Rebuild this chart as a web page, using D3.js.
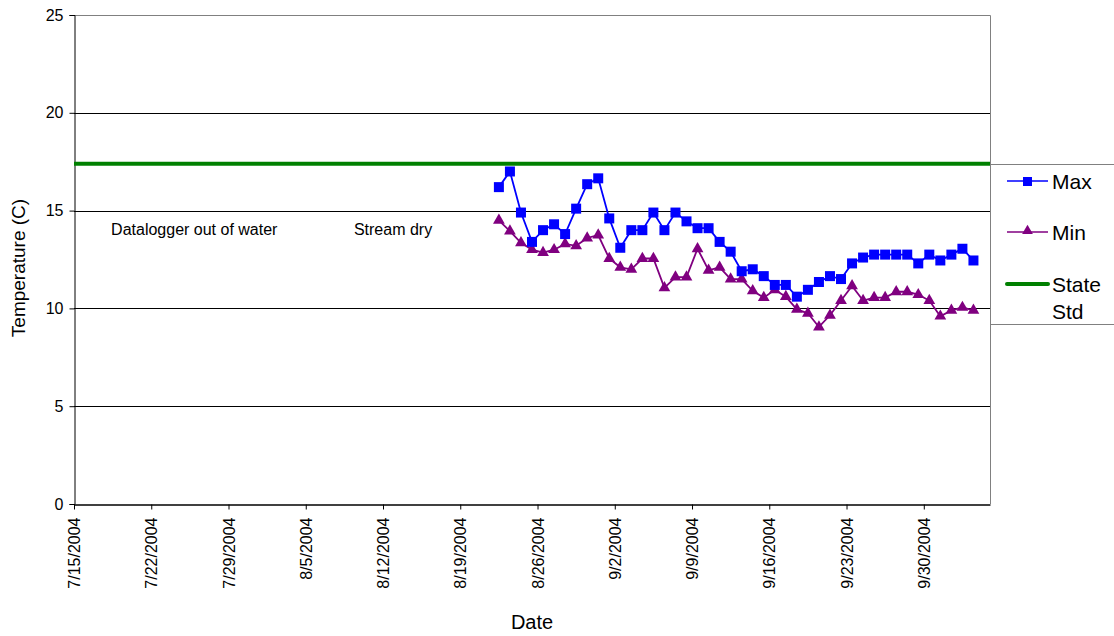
<!DOCTYPE html>
<html>
<head>
<meta charset="utf-8">
<script src="https://cdn.jsdelivr.net/npm/d3@7"></script>
<style>
  html, body { margin: 0; padding: 0; background: #fff; }
  svg { display: block; font-family: "Liberation Sans", Arial, sans-serif; }
</style>
</head>
<body>
<svg id="chart" width="1114" height="636"></svg>
<script>
// ---- data ----
const dates = ["8/22/2004","8/23/2004","8/24/2004","8/25/2004","8/26/2004","8/27/2004","8/28/2004","8/29/2004","8/30/2004","8/31/2004",
  "9/1/2004","9/2/2004","9/3/2004","9/4/2004","9/5/2004","9/6/2004","9/7/2004","9/8/2004","9/9/2004","9/10/2004",
  "9/11/2004","9/12/2004","9/13/2004","9/14/2004","9/15/2004","9/16/2004","9/17/2004","9/18/2004","9/19/2004","9/20/2004",
  "9/21/2004","9/22/2004","9/23/2004","9/24/2004","9/25/2004","9/26/2004","9/27/2004","9/28/2004","9/29/2004","9/30/2004",
  "10/1/2004","10/2/2004","10/3/2004","10/4/2004"];
const maxVals = [16.2, 17.0, 14.9, 13.4, 14.0, 14.3, 13.8, 15.1, 16.35, 16.65,
  14.6, 13.1, 14.0, 14.0, 14.9, 14.0, 14.9, 14.45, 14.1, 14.1,
  13.4, 12.9, 11.9, 12.0, 11.65, 11.2, 11.2, 10.6, 10.95, 11.35,
  11.65, 11.5, 12.3, 12.6, 12.75, 12.75, 12.75, 12.75, 12.3, 12.75,
  12.45, 12.75, 13.05, 12.45];
const minVals = [14.5, 13.95, 13.35, 13.0, 12.85, 13.0, 13.3, 13.2, 13.6, 13.75,
  12.55, 12.1, 12.0, 12.55, 12.55, 11.05, 11.6, 11.6, 13.05, 11.95,
  12.1, 11.5, 11.5, 10.9, 10.55, 10.95, 10.6, 9.95, 9.75, 9.05,
  9.65, 10.4, 11.15, 10.4, 10.55, 10.55, 10.85, 10.85, 10.7, 10.4,
  9.6, 9.9, 10.05, 9.9];
const stateStd = 17.4;
const xTickLabels = ["7/15/2004","7/22/2004","7/29/2004","8/5/2004","8/12/2004","8/19/2004","8/26/2004","9/2/2004","9/9/2004","9/16/2004","9/23/2004","9/30/2004"];
const yTicks = [0, 5, 10, 15, 20, 25];
const xDomain = ["7/15/2004", "10/6/2004"];
const annotations = [
  { text: "Datalogger out of water", date: "7/18/2004", value: 13.75 },
  { text: "Stream dry", date: "8/9/2004", value: 13.75 }
];
const seriesNames = ["Max", "Min", "State Std"];

// ---- helpers ----
const parse = d3.timeParse("%m/%d/%Y");
const mid = s => d3.timeHour.offset(parse(s), 12);

const svg = d3.select("#chart");
const L = 74, R = 990, T = 15, B = 504;

const x = d3.scaleTime().domain(xDomain.map(parse)).range([L, R]);
const y = d3.scaleLinear().domain([0, 25]).range([B, T]);

// gridlines
svg.append("g").selectAll("line").data(yTicks.filter(v => v > 0 && v < 25)).join("line")
  .attr("x1", L).attr("x2", R)
  .attr("y1", d => Math.round(y(d)) + 0.5).attr("y2", d => Math.round(y(d)) + 0.5)
  .attr("stroke", "#000").attr("stroke-width", 1);

// plot border (top/right gray)
svg.append("path")
  .attr("d", `M${L},${T + 0.5}H${R + 0.5}V${B}`)
  .attr("fill", "none").attr("stroke", "#808080").attr("stroke-width", 1);

// y axis
const yAxis = d3.axisLeft(y).tickValues(yTicks).tickSize(5).tickPadding(6).tickFormat(d3.format("d"));
const gy = svg.append("g").attr("transform", `translate(${L + 0.5},0)`).call(yAxis);
gy.select(".domain").attr("stroke", "#000");
gy.selectAll("text").attr("font-size", 16).attr("fill", "#000").attr("font-family", "Liberation Sans, Arial, sans-serif");

// x axis
const xAxis = d3.axisBottom(x).tickValues(xTickLabels.map(parse)).tickSize(5).tickSizeOuter(0)
  .tickFormat(d3.timeFormat("%-m/%-d/%Y"));
const gx = svg.append("g").attr("transform", `translate(0,${B + 0.5})`).call(xAxis);
gx.select(".domain").attr("stroke", "#000").attr("stroke-width", 1.5);
gx.selectAll("text")
  .attr("font-size", 16).attr("fill", "#000").attr("font-family", "Liberation Sans, Arial, sans-serif")
  .attr("transform", "rotate(-90)")
  .attr("text-anchor", "end")
  .attr("x", -13).attr("y", 0).attr("dy", "0.35em");

// state standard line
svg.append("line")
  .attr("x1", L).attr("x2", R)
  .attr("y1", y(stateStd)).attr("y2", y(stateStd))
  .attr("stroke", "#008000").attr("stroke-width", 4);

// series
const maxData = dates.map((d, i) => ({ date: mid(d), v: maxVals[i] }));
const minData = dates.map((d, i) => ({ date: mid(d), v: minVals[i] }));
const line = d3.line().x(d => x(d.date)).y(d => y(d.v));

svg.append("path").datum(minData).attr("d", line)
  .attr("fill", "none").attr("stroke", "#800080").attr("stroke-width", 1.8);
svg.append("path").datum(maxData).attr("d", line)
  .attr("fill", "none").attr("stroke", "#0000ff").attr("stroke-width", 1.8);

const tri = d3.symbol().type(d3.symbolTriangle).size(60);
svg.append("g").selectAll("path").data(minData).join("path")
  .attr("d", tri)
  .attr("transform", d => `translate(${x(d.date)},${y(d.v)})`)
  .attr("fill", "#800080");

svg.append("g").selectAll("rect").data(maxData).join("rect")
  .attr("x", d => x(d.date) - 5).attr("y", d => y(d.v) - 5)
  .attr("width", 10).attr("height", 10)
  .attr("fill", "#0000ff");

// annotations
svg.append("g").selectAll("text").data(annotations).join("text")
  .attr("x", d => x(parse(d.date)) + 4)
  .attr("y", d => y(d.value))
  .attr("font-size", 16).attr("fill", "#000")
  .text(d => d.text);

// axis titles
svg.append("text")
  .attr("transform", "translate(25,268) rotate(-90)")
  .attr("text-anchor", "middle").attr("font-size", 19).attr("fill", "#000")
  .text("Temperature (C)");
svg.append("text")
  .attr("x", 532).attr("y", 629)
  .attr("text-anchor", "middle").attr("font-size", 20).attr("fill", "#000")
  .text("Date");

// legend
const lg = svg.append("g");
lg.append("rect").attr("x", 990.5).attr("y", 164.5).attr("width", 140).attr("height", 160)
  .attr("fill", "#fff").attr("stroke", "#808080").attr("stroke-width", 1);
// Max
lg.append("line").attr("x1", 1007).attr("x2", 1048).attr("y1", 181).attr("y2", 181)
  .attr("stroke", "#0000ff").attr("stroke-width", 1.5);
lg.append("rect").attr("x", 1023).attr("y", 177).attr("width", 9).attr("height", 9).attr("fill", "#0000ff");
lg.append("text").attr("x", 1052).attr("y", 189).attr("font-size", 21).attr("fill", "#000").text(seriesNames[0]);
// Min
lg.append("line").attr("x1", 1007).attr("x2", 1048).attr("y1", 232).attr("y2", 232)
  .attr("stroke", "#800080").attr("stroke-width", 1.5);
lg.append("path").attr("d", d3.symbol().type(d3.symbolTriangle).size(50)())
  .attr("transform", "translate(1027.5,231)").attr("fill", "#800080");
lg.append("text").attr("x", 1052).attr("y", 240).attr("font-size", 21).attr("fill", "#000").text(seriesNames[1]);
// State Std
lg.append("line").attr("x1", 1007).attr("x2", 1048).attr("y1", 284).attr("y2", 284)
  .attr("stroke", "#008000").attr("stroke-width", 4).attr("stroke-linecap", "round");
const st = lg.append("text").attr("x", 1052).attr("y", 292).attr("font-size", 21).attr("fill", "#000");
st.append("tspan").attr("x", 1052).text("State");
st.append("tspan").attr("x", 1052).attr("dy", 27).text("Std");
</script>
</body>
</html>
